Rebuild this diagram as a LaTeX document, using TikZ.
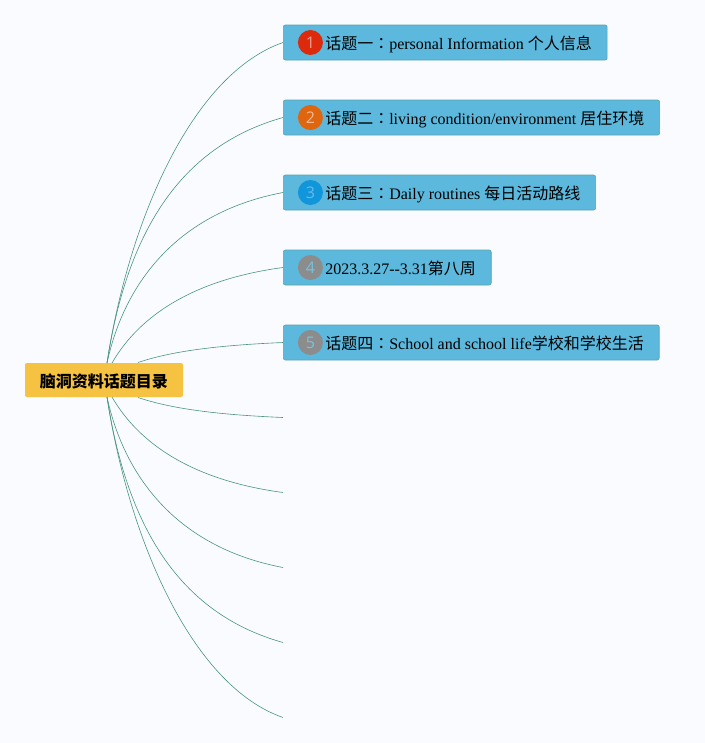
\documentclass[tikz,border=0pt]{standalone}
\usepackage{fontspec}
\usepackage{xcolor}
\setmainfont{Liberation Serif}
\newfontfamily\cjk{Noto Sans CJK SC}
\newfontfamily\cjkcolon{Noto Sans CJK TC}
\newfontfamily\digitfont{Open Sans}
\newcommand{\zh}[1]{{\cjk #1}}
\newcommand{\zhcolon}{{\cjkcolon ：}}
\usetikzlibrary{positioning}
\definecolor{pagebg}{HTML}{F9FBFF}
\definecolor{topicfill}{HTML}{5CB8DC}
\definecolor{topicline}{HTML}{5AA3AE}
\definecolor{rootfill}{HTML}{F5C242}
\definecolor{branchline}{HTML}{4A9482}
\definecolor{badgered}{HTML}{DE2A0C}
\definecolor{badgeorange}{HTML}{E0650F}
\definecolor{badgeblue}{HTML}{1296DB}
\definecolor{badgegray}{HTML}{8C8C8C}
\tikzset{
  rootbox/.style={rectangle,rounded corners=1.5pt,fill=rootfill,minimum width=118.5pt,minimum height=25.5pt,inner sep=0pt,text height=11.5pt,text depth=0.8pt,font=\fontsize{12}{14}\selectfont\bfseries},
  topicbox/.style={rectangle,rounded corners=1.5pt,draw=topicline,fill=topicfill,minimum height=26.25pt,inner xsep=11.5pt,inner ysep=0pt,text height=12pt,text depth=1.8pt,anchor=west,font=\fontsize{12}{14}\selectfont,execute at begin node={\hspace*{20pt}}},
  badge/.style={circle,minimum size=18.75pt,inner sep=0pt,font=\digitfont\fontsize{12}{14}\selectfont},
  branch/.style={draw=branchline,line width=0.45pt}
}
\begin{document}
\begin{tikzpicture}[x=0.75pt,y=-0.75pt]
\fill[pagebg] (0,0) rectangle (705,743);

\node[rootbox] (root) at (104,380) {\zh{脑洞资料话题目录}};

\node[topicbox] (T1) at (283,42.5) {\zh{话题一}\zhcolon personal Information \zh{个人信息}};
\node[topicbox] (T2) at (283,117.5) {\zh{话题二}\zhcolon living condition/environment \zh{居住环境}};
\node[topicbox] (T3) at (283,192.5) {\zh{话题三}\zhcolon Daily routines \zh{每日活动路线}};
\node[topicbox] (T4) at (283,267.5) {2023.3.27{-}{-}3.31\zh{第八周}};
\node[topicbox] (T5) at (283,342.5) {\zh{话题四}\zhcolon School and school life\zh{学校和学校生活}};

\node[badge,fill=badgered,text=badgered!45!white,right=11pt of T1.west] (B1) {1};
\node[badge,fill=badgeorange,text=badgeorange!45!white,right=11pt of T2.west] (B2) {2};
\node[badge,fill=badgeblue,text=badgeblue!65!white,right=11pt of T3.west] (B3) {3};
\node[badge,fill=badgegray,text=topicfill!85!white,right=11pt of T4.west] (B4) {4};
\node[badge,fill=badgegray,text=topicfill!85!white,right=11pt of T5.west] (B5) {5};

\coordinate (E6) at (283,417.5);
\coordinate (E7) at (283,492.5);
\coordinate (E8) at (283,567.5);
\coordinate (E9) at (283,642.5);
\coordinate (E10) at (283,717.5);
\coordinate (up) at (107,363);
\coordinate (upmid) at (112,363);
\coordinate (upright) at (138,362.5);
\coordinate (down) at (107,397);
\coordinate (downmid) at (112,397);
\coordinate (downright) at (138,397.5);

\draw[branch] (up) .. controls (128,225) and (190,75) .. (T1.west);
\draw[branch] (up) .. controls (128,225) and (185,145) .. (T2.west);
\draw[branch] (up) .. controls (125,280) and (180,212) .. (T3.west);
\draw[branch] (upmid) .. controls (138,318) and (190,280) .. (T4.west);
\draw[branch] (upright) .. controls (175,350) and (225,345) .. (T5.west);
\draw[branch] (downright) .. controls (175,410) and (225,415) .. (E6);
\draw[branch] (downmid) .. controls (138,442) and (190,480) .. (E7);
\draw[branch] (down) .. controls (125,480) and (180,548) .. (E8);
\draw[branch] (down) .. controls (128,535) and (185,615) .. (E9);
\draw[branch] (down) .. controls (128,535) and (190,685) .. (E10);
\end{tikzpicture}
\end{document}
